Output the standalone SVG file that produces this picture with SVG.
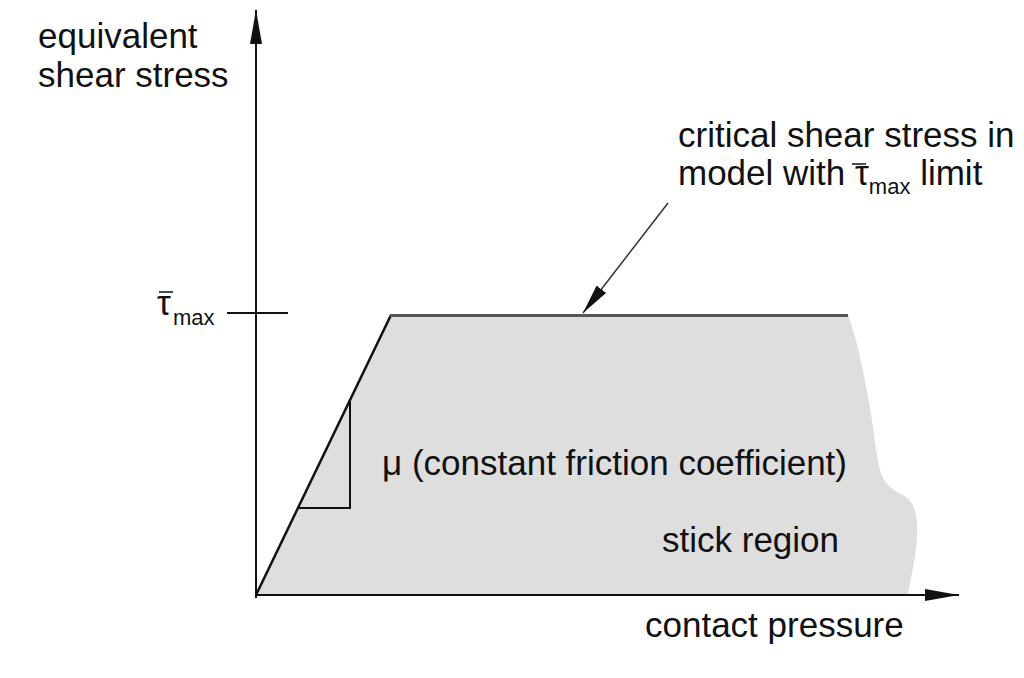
<svg xmlns="http://www.w3.org/2000/svg" width="1024" height="678" viewBox="0 0 1024 678">
<style>
text{font-family:"Liberation Sans",Arial,sans-serif;font-size:35px;fill:#111}
.sub{font-size:22px}
.ax{stroke:#111;stroke-width:2;fill:none}
</style>
<defs>
<marker id="ah" viewBox="0 0 34 12" refX="34" refY="6" markerWidth="34" markerHeight="12" markerUnits="userSpaceOnUse" orient="auto">
<path d="M0,0 L34,6 L0,12 Z" fill="#111"/>
</marker>
<marker id="ah2" viewBox="0 0 30 12" refX="30" refY="6" markerWidth="30" markerHeight="12" markerUnits="userSpaceOnUse" orient="auto">
<path d="M0,0 L30,6 L0,12 Z" fill="#111"/>
</marker>
</defs>
<rect width="1024" height="678" fill="#fff"/>
<g id="region">
<path d="M256,595 L390,315 L848,315 C858,340 870,400 877,455 C880,480 888,488 903,495 C915,502 918,515 917,535 C916,560 910,580 908,595 Z" fill="#dedede"/>
</g>
<g id="connectors">
<line class="ax" x1="256" y1="598" x2="256" y2="10" marker-end="url(#ah)"/>
<line class="ax" x1="255" y1="595" x2="959" y2="595" marker-end="url(#ah)"/>
<line class="ax" x1="227" y1="313" x2="288" y2="313"/>
<line x1="256" y1="595" x2="391" y2="315" stroke="#111" stroke-width="2.5"/>
<line x1="390" y1="315.5" x2="848" y2="315.5" stroke="#555" stroke-width="3"/>
<polyline points="298,508 350,508 350,399" class="ax"/>
<line x1="668" y1="203" x2="583" y2="313" stroke="#333" stroke-width="1.5" marker-end="url(#ah2)"/>
</g>
<g id="labels">
<text x="38" y="48">equivalent</text>
<text x="38" y="87">shear stress</text>
<text x="157" y="315">τ</text><text class="sub" x="173" y="325">max</text>
<line x1="159" y1="292" x2="173" y2="292" stroke="#111" stroke-width="1.5"/>
<text x="678" y="147">critical shear stress in</text>
<text x="678" y="185">model with <tspan>τ</tspan><tspan class="sub" dy="9">max</tspan><tspan dy="-9"> limit</tspan></text>
<line x1="852" y1="164" x2="866" y2="164" stroke="#111" stroke-width="1.5"/>
<text x="382" y="475">μ (constant friction coefficient)</text>
<text x="662" y="552">stick region</text>
<text x="645" y="637">contact pressure</text>
</g>
</svg>
